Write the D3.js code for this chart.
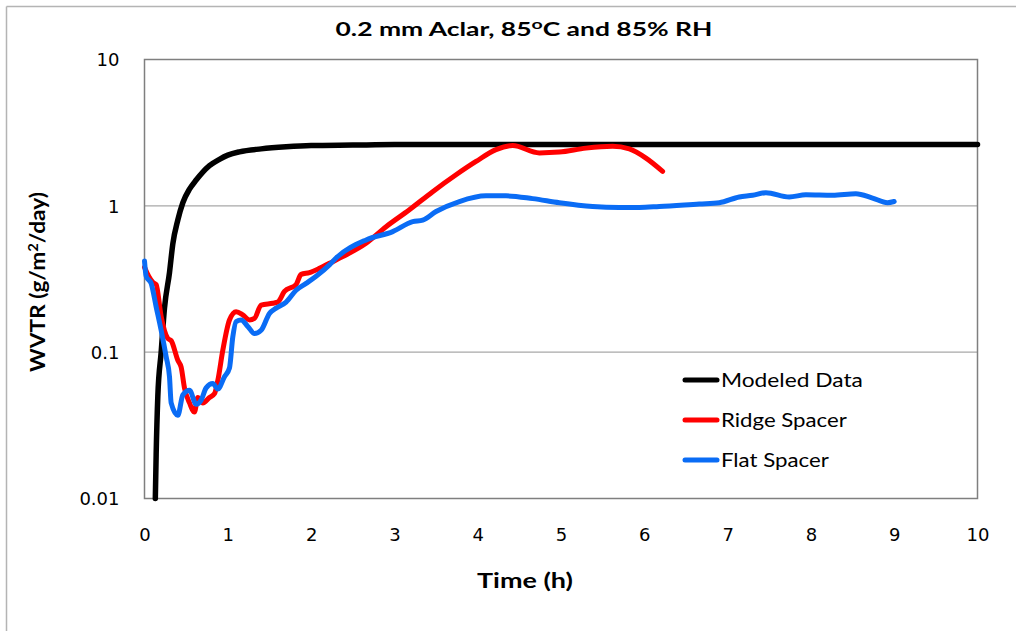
<!DOCTYPE html>
<html>
<head>
<meta charset="utf-8">
<script src="https://cdn.jsdelivr.net/npm/d3@7"></script>
<style>
  html, body { margin: 0; padding: 0; background: #fff; }
  svg { display: block; }
</style>
</head>
<body>
<svg id="chart" width="1016" height="631"></svg>
<script>
// ---------- DATA ----------
const seriesNames = ["Modeled Data", "Ridge Spacer", "Flat Spacer"];

const modeledTime = [0.13, 0.14, 0.16, 0.20, 0.24, 0.30, 0.34, 0.40, 0.46, 0.54, 0.62, 0.70, 0.78, 0.90, 1.00, 1.14, 1.40, 1.70, 2.00, 2.50, 3.00, 10.0];
const modeledWVTR = [0.01, 0.02, 0.05, 0.10, 0.20, 0.35, 0.55, 0.80, 1.05, 1.30, 1.50, 1.70, 1.88, 2.08, 2.22, 2.34, 2.45, 2.53, 2.58, 2.60, 2.62, 2.62];

const ridgeTime = [0.00, 0.05, 0.10, 0.14, 0.20, 0.28, 0.32, 0.40, 0.44, 0.48, 0.54, 0.60, 0.64, 0.70, 0.78, 0.84, 0.88, 0.94, 1.02, 1.10, 1.18, 1.26, 1.32, 1.40, 1.54, 1.60, 1.68, 1.82, 1.88, 1.98, 2.10, 2.22, 2.38, 2.66, 2.90, 3.18, 3.46, 3.74, 3.98, 4.22, 4.42, 4.74, 4.98, 5.30, 5.62, 5.82, 6.02, 6.22];
const ridgeWVTR = [0.38, 0.33, 0.30, 0.29, 0.175, 0.124, 0.12, 0.088, 0.079, 0.057, 0.045, 0.039, 0.049, 0.045, 0.049, 0.052, 0.064, 0.103, 0.166, 0.189, 0.18, 0.166, 0.17, 0.21, 0.216, 0.22, 0.26, 0.29, 0.34, 0.35, 0.374, 0.405, 0.45, 0.555, 0.72, 0.94, 1.25, 1.63, 2.01, 2.42, 2.58, 2.30, 2.33, 2.48, 2.55, 2.45, 2.12, 1.72];

const flatTime = [0.00, 0.02, 0.08, 0.14, 0.20, 0.26, 0.30, 0.32, 0.40, 0.46, 0.54, 0.62, 0.68, 0.74, 0.82, 0.88, 0.96, 1.02, 1.06, 1.10, 1.16, 1.24, 1.32, 1.40, 1.50, 1.58, 1.70, 1.82, 1.94, 2.06, 2.22, 2.30, 2.66, 2.98, 3.22, 3.34, 3.50, 3.78, 4.10, 4.34, 4.66, 4.98, 5.38, 5.70, 5.94, 6.18, 6.66, 6.90, 7.14, 7.30, 7.46, 7.74, 7.94, 8.26, 8.54, 8.74, 8.92, 9.00];
const flatWVTR = [0.42, 0.33, 0.295, 0.204, 0.141, 0.093, 0.068, 0.045, 0.037, 0.051, 0.055, 0.044, 0.047, 0.057, 0.061, 0.056, 0.068, 0.078, 0.127, 0.162, 0.166, 0.15, 0.134, 0.141, 0.184, 0.20, 0.22, 0.265, 0.295, 0.33, 0.395, 0.44, 0.585, 0.667, 0.78, 0.80, 0.914, 1.07, 1.17, 1.17, 1.12, 1.05, 0.99, 0.975, 0.975, 0.99, 1.03, 1.05, 1.15, 1.18, 1.23, 1.15, 1.19, 1.18, 1.21, 1.13, 1.05, 1.07];

const xTicks = [0, 1, 2, 3, 4, 5, 6, 7, 8, 9, 10];
const yTicks = [0.01, 0.1, 1, 10];
const yTickLabels = ["0.01", "0.1", "1", "10"];

// ---------- LAYOUT ----------
const svg = d3.select("#chart");
const plot = { left: 144.5, right: 977.5, top: 59.5, bottom: 498.5 };
const colors = ["#000000", "#ff0000", "#0a6cf5"];

const x = d3.scaleLinear().domain([0, 10]).range([plot.left, plot.right]);
const y = d3.scaleLog().domain([0.01, 10]).range([plot.bottom, plot.top]);

// outer chart border (top & left visible)
svg.append("line").attr("x1", 6.5).attr("x2", 1016).attr("y1", 6.5).attr("y2", 6.5)
  .attr("stroke", "#b4b4b4").attr("stroke-width", 1.5);
svg.append("line").attr("x1", 6.5).attr("x2", 6.5).attr("y1", 6.5).attr("y2", 631)
  .attr("stroke", "#b4b4b4").attr("stroke-width", 1.5);

// gridlines
svg.append("g").selectAll("line").data([0.1, 1]).join("line")
  .attr("x1", plot.left).attr("x2", plot.right)
  .attr("y1", d => y(d)).attr("y2", d => y(d))
  .attr("stroke", "#a8a8a8").attr("stroke-width", 1.3);

// plot border
svg.append("rect").attr("x", plot.left).attr("y", plot.top)
  .attr("width", plot.right - plot.left).attr("height", plot.bottom - plot.top)
  .attr("fill", "none").attr("stroke", "#7f7f7f").attr("stroke-width", 1.5);

// axes (labels only, via d3 axes)
const xAxis = d3.axisBottom(x).tickValues(xTicks).tickSize(0).tickPadding(0);
const gx = svg.append("g").attr("transform", `translate(0,${plot.bottom})`).call(xAxis);
gx.select(".domain").remove();
gx.selectAll("text").attr("font-family", "DejaVu Sans").attr("font-size", 18)
  .attr("fill", "#000").attr("dy", null).attr("y", 42);

const yAxis = d3.axisLeft(y).tickValues(yTicks).tickSize(0).tickPadding(0)
  .tickFormat((d, i) => yTickLabels[i]);
const gy = svg.append("g").attr("transform", `translate(${plot.left - 25},0)`).call(yAxis);
gy.select(".domain").remove();
gy.selectAll("text").attr("font-family", "DejaVu Sans").attr("font-size", 18)
  .attr("fill", "#000").attr("dy", "0.35em");

// lines
const line = d3.line().x(d => x(d[0])).y(d => y(d[1])).curve(d3.curveMonotoneX);
const series = [
  d3.zip(modeledTime, modeledWVTR),
  d3.zip(ridgeTime, ridgeWVTR),
  d3.zip(flatTime, flatWVTR)
];
const widths = [5.5, 5, 5];
series.forEach((s, i) => {
  svg.append("path").datum(s).attr("d", line)
    .attr("fill", "none").attr("stroke", colors[i]).attr("stroke-width", widths[i])
    .attr("stroke-linejoin", "round").attr("stroke-linecap", "round");
});

// helper: fit text to a target width by scaling along its own x axis
function fitWidth(sel, targetW, cx, cy) {
  const bb = sel.node().getBBox();
  const s = targetW / bb.width;
  sel.attr("transform", `translate(${cx},${cy}) scale(${s},1) translate(${-cx},${-cy})`);
}

// title
const title = svg.append("text").attr("x", 524).attr("y", 36)
  .attr("text-anchor", "middle").attr("font-family", "Lato").attr("font-weight", "bold")
  .attr("font-size", 19).attr("fill", "#000");
title.append("tspan").text("0.2 mm Aclar, 85");
title.append("tspan").text("o").attr("font-size", 14).attr("dy", -7);
title.append("tspan").text("C and 85% RH").attr("dy", 7);
fitWidth(title, 377, 524, 36);

// x label
const xl = svg.append("text").attr("x", 525).attr("y", 588)
  .attr("text-anchor", "middle").attr("font-family", "Lato").attr("font-weight", "bold")
  .attr("font-size", 20).attr("fill", "#000").text("Time (h)");
fitWidth(xl, 96, 525, 588);

// y label (rotated; fit length along its own axis)
const yl = svg.append("text").attr("x", 0).attr("y", 0)
  .attr("text-anchor", "middle").attr("font-family", "Lato").attr("font-weight", "bold")
  .attr("font-size", 20).attr("fill", "#000");
yl.append("tspan").text("WVTR (g/m");
yl.append("tspan").text("2").attr("font-size", 13).attr("dy", -7);
yl.append("tspan").text("/day)").attr("dy", 7);
const ylW = yl.node().getBBox().width;
yl.attr("transform", `translate(45,282) rotate(-90) scale(${180 / ylW},1)`);

// legend
const legY = [380, 420, 460];
const legW = [142, 126, 108];
seriesNames.forEach((name, i) => {
  svg.append("line").attr("x1", 685).attr("x2", 717).attr("y1", legY[i]).attr("y2", legY[i])
    .attr("stroke", colors[i]).attr("stroke-width", 5).attr("stroke-linecap", "round");
  const t = svg.append("text").attr("x", 721).attr("y", legY[i] + 7)
    .attr("font-family", "Lato").attr("font-size", 19).attr("fill", "#000").text(name);
  fitWidth(t, legW[i], 721, legY[i]);
});
</script>
</body>
</html>
